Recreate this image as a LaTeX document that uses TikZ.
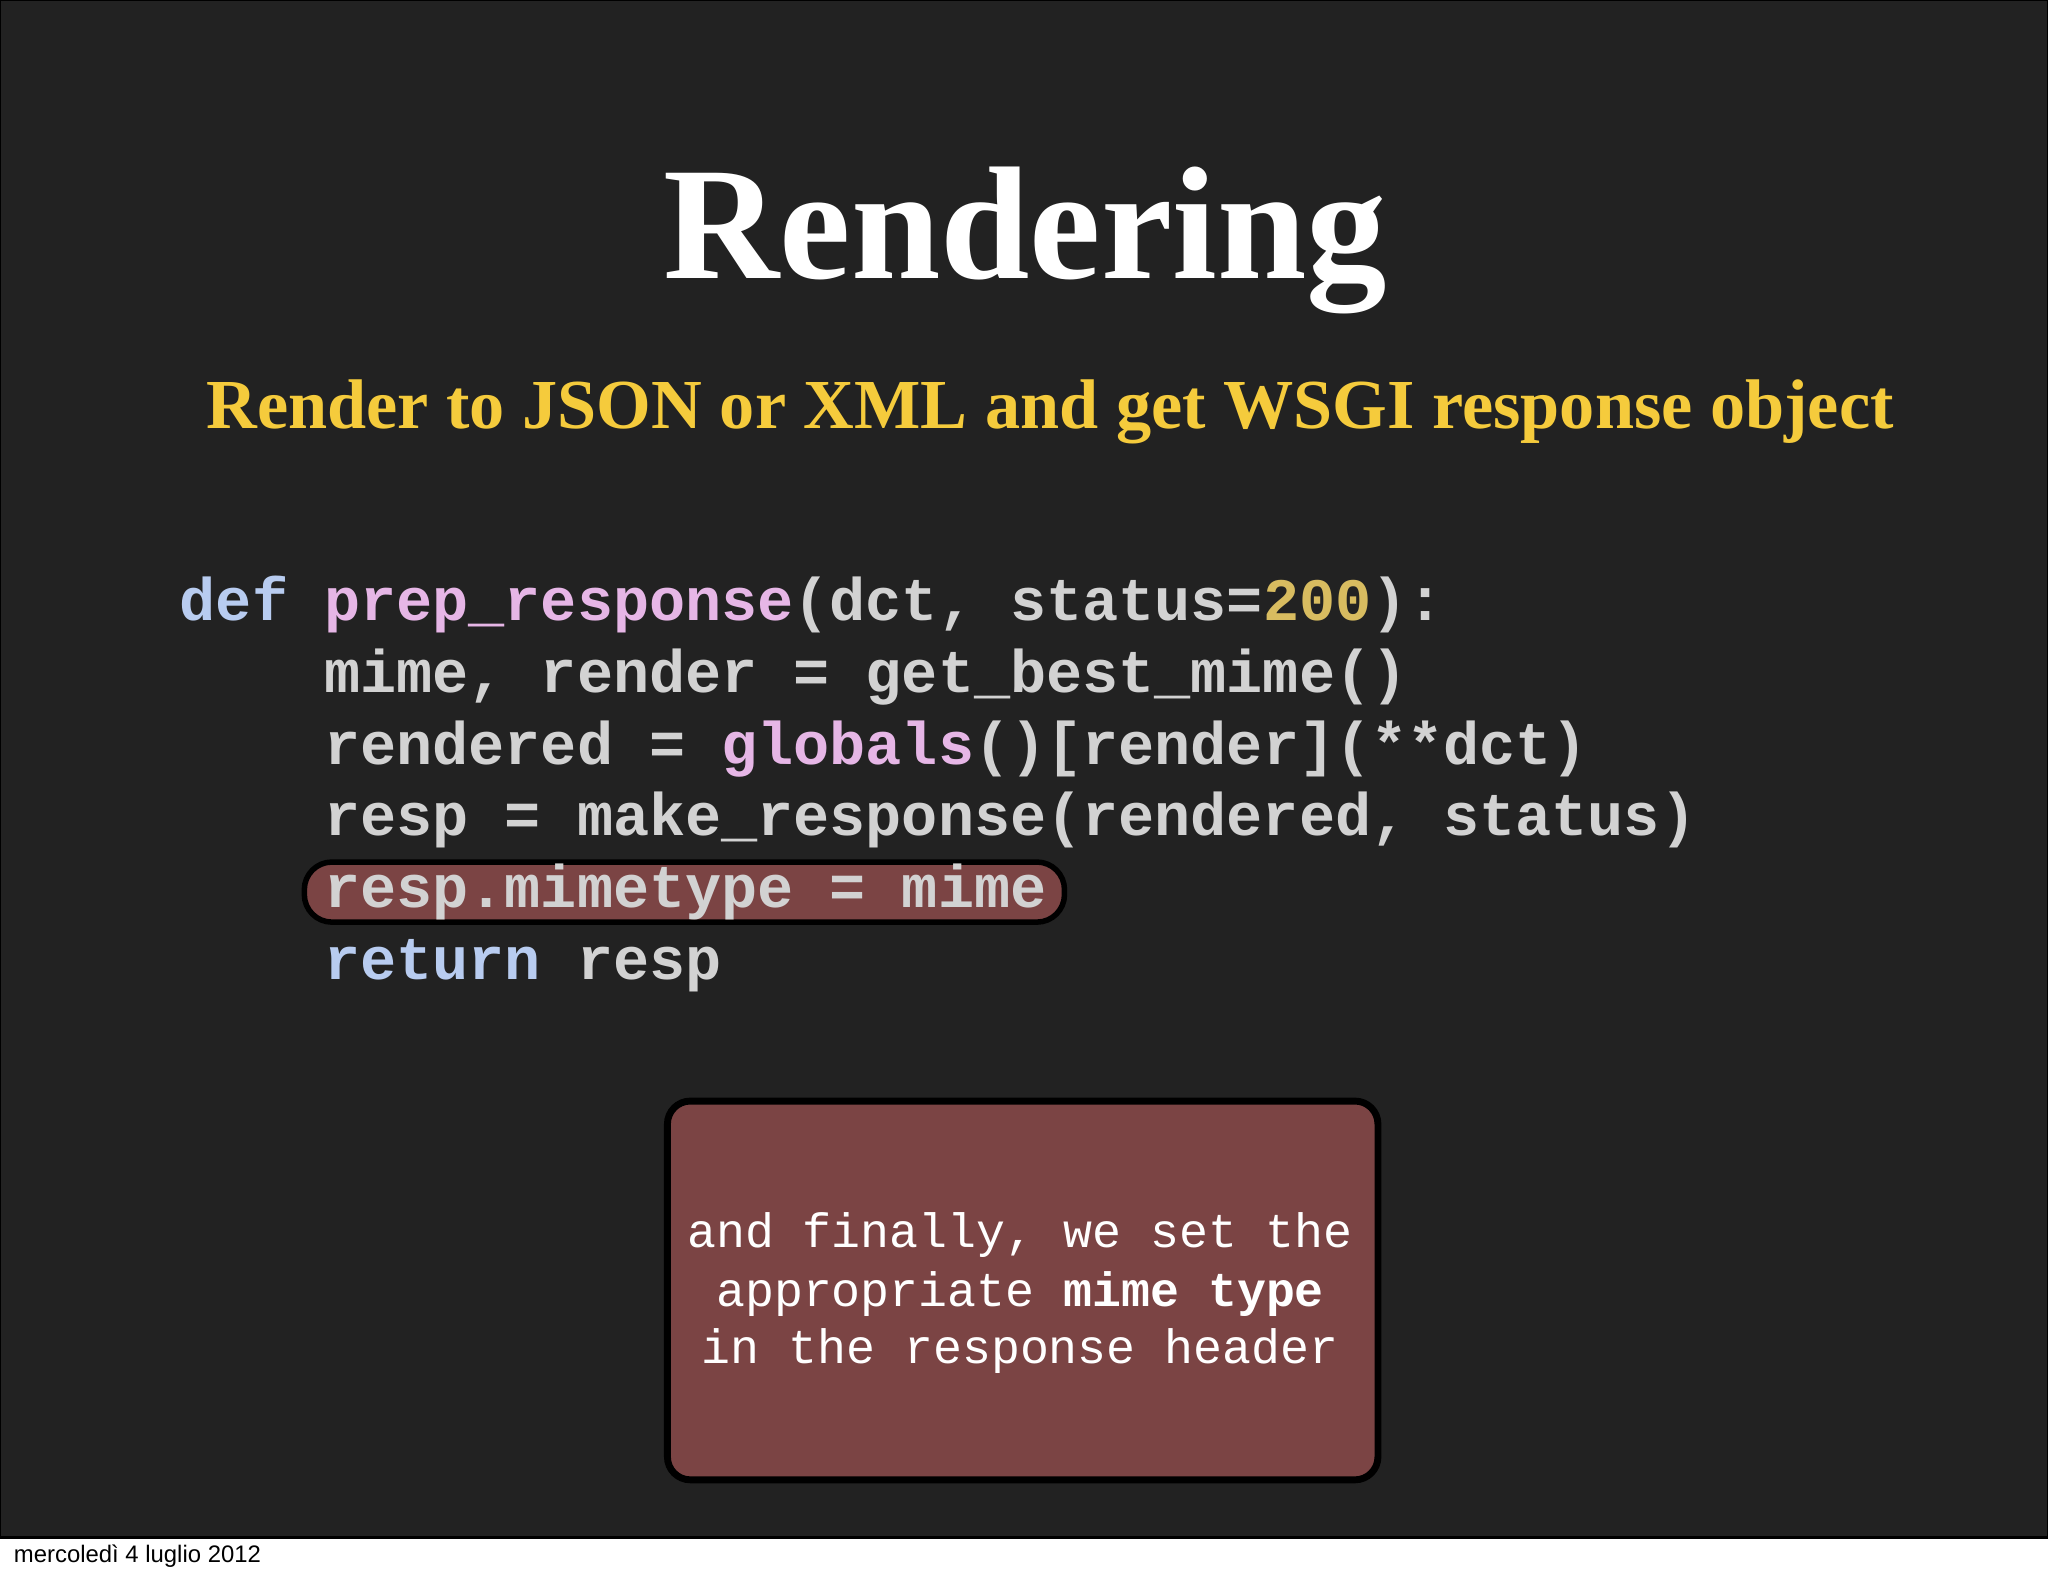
\documentclass[tikz,border=0pt]{standalone}
\usepackage{fontspec}
\setmainfont{Liberation Serif}
\newfontfamily\codefont{Liberation Mono}
\newfontfamily\footfont{Liberation Sans}
\definecolor{bg}{HTML}{222222}
\definecolor{kw}{HTML}{B8CCF0}
\definecolor{fn}{HTML}{E6B6E6}
\definecolor{num}{HTML}{D8BC60}
\definecolor{code}{HTML}{D2D2D2}
\definecolor{sub}{HTML}{F5CB3C}
\definecolor{box}{HTML}{7B4444}
\tikzset{codeline/.style={anchor=base west,inner sep=0pt,text=code,font=\codefont\bfseries\fontsize{13.1pt}{15pt}\selectfont},
boxline/.style={anchor=base,inner sep=0pt,text=white,font=\codefont\fontsize{10.5pt}{12pt}\selectfont}}
\begin{document}
\begin{tikzpicture}[x=0.01cm,y=-0.01cm]
\useasboundingbox (0,0) rectangle (1568,1206);
\fill[white] (0,0) rectangle (1568,1206);
\fill[bg] (0,0) rectangle (1568,1177);
\draw[black,line width=0.6pt] (0,0) rectangle (1568,1177);
\node (title) [anchor=base,inner sep=0pt,text=white,font=\bfseries\fontsize{35pt}{40pt}\selectfont] at (785,213) {Rendering};
\node (subtitle) [anchor=base,inner sep=0pt,text=sub,font=\bfseries\fontsize{15.3pt}{18pt}\selectfont] at (804,328) {Render to JSON or XML and get WSGI response object};
\fill[box,draw=black,line width=1.2pt,rounded corners=6pt] (233,660) rectangle (815,706);
\node (l1) [codeline] at (137,475) {\textcolor{kw}{def} \textcolor{fn}{prep\_response}(dct, status=\textcolor{num}{200}):};
\node (l2) [codeline] at (137,530) {\phantom{def }mime, render = get\_best\_mime()};
\node (l3) [codeline] at (137,585) {\phantom{def }rendered = \textcolor{fn}{globals}()[render](**dct)};
\node (l4) [codeline] at (137,640) {\phantom{def }resp = make\_response(rendered, status)};
\node (l5) [codeline] at (137,695) {\phantom{def }resp.mimetype = mime};
\node (l6) [codeline] at (137,750) {\phantom{def }\textcolor{kw}{return} resp};
\fill[box,draw=black,line width=1.5pt,rounded corners=5pt] (511,843) rectangle (1055,1133);
\node (b1) [boxline] at (781,955) {and finally, we set the};
\node (b2) [boxline] at (781,1000) {appropriate \textbf{mime type}};
\node (b3) [boxline] at (781,1044) {in the response header};
\node (foot) [anchor=base west,inner sep=0pt,font=\footfont\fontsize{5.2pt}{6pt}\selectfont] at (10,1196) {mercoledì 4 luglio 2012};
\end{tikzpicture}
\end{document}
